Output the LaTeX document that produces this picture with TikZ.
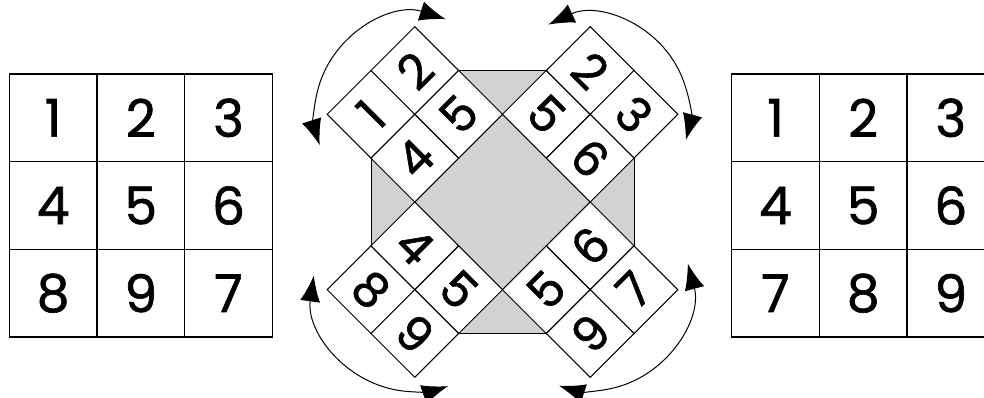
\documentclass[tikz,border=0pt]{standalone}
\usepackage{fontspec}
\usetikzlibrary{arrows.meta}
\newfontfamily\digitfont[FakeBold=1.2]{Poppins}
\definecolor{boardgray}{HTML}{D1D2D4}

\begin{document}
\begin{tikzpicture}[
    x=0.5pt, y=0.5pt,
    cell/.style={rectangle, draw=black, line width=0.6pt, minimum size=43.83pt, inner sep=0pt},
    tile/.style={rectangle, draw=black, fill=white, line width=0.5pt, minimum size=31pt, inner sep=0pt, font=\digitfont\fontsize{24}{24}\selectfont},
    board/.style={rectangle, draw=black, fill=boardgray, line width=0.5pt, minimum size=131.5pt, inner sep=0pt},
    rotarrow/.style={{Latex[length=13pt, width=10pt]}-{Latex[length=13pt, width=10pt]}, line width=0.5pt},
    every node/.style={font=\digitfont\fontsize{26}{26}\selectfont}
]
    \useasboundingbox (0,0) rectangle (984,397);

    % grid before
    \node[cell] (a1) at (53.1,279.2) {1};
    \node[cell] (a2) at (140.8,279.2) {2};
    \node[cell] (a3) at (228.5,279.2) {3};
    \node[cell] (a4) at (53.1,191.5) {4};
    \node[cell] (a5) at (140.8,191.5) {5};
    \node[cell] (a6) at (228.5,191.5) {6};
    \node[cell] (a7) at (53.1,103.8) {8};
    \node[cell] (a8) at (140.8,103.8) {9};
    \node[cell] (a9) at (228.5,103.8) {7};

    % board with the four turning blocks
    \node[board] (board) at (502.5,195) {};
    \coordinate (ctl) at (414.8,282.7);
    \coordinate (ctr) at (590.2,282.7);
    \coordinate (cbl) at (414.8,107.3);
    \coordinate (cbr) at (590.2,107.3);

    \node[tile, rotate=45] (tl1) at (371,282.7) {1};
    \node[tile, rotate=45] (tl2) at (414.8,326.5) {2};
    \node[tile, rotate=45] (tl5) at (458.7,282.7) {5};
    \node[tile, rotate=45] (tl4) at (414.8,238.8) {4};

    \node[tile, rotate=-45] (tr5) at (546.3,282.7) {5};
    \node[tile, rotate=-45] (tr2) at (590.2,326.5) {2};
    \node[tile, rotate=-45] (tr3) at (634,282.7) {3};
    \node[tile, rotate=-45] (tr6) at (590.2,238.8) {6};

    \node[tile, rotate=-45] (bl8) at (371,107.3) {8};
    \node[tile, rotate=-45] (bl4) at (414.8,151.2) {4};
    \node[tile, rotate=-45] (bl5) at (458.7,107.3) {5};
    \node[tile, rotate=-45] (bl9) at (414.8,63.5) {9};

    \node[tile, rotate=45] (br5) at (546.3,107.3) {5};
    \node[tile, rotate=45] (br6) at (590.2,151.2) {6};
    \node[tile, rotate=45] (br7) at (634,107.3) {7};
    \node[tile, rotate=45] (br9) at (590.2,63.5) {9};

    \draw[rotarrow] ([shift={(72:100)}]ctl) arc[start angle=72, end angle=198, radius=100];
    \draw[rotarrow] ([shift={(115:99)}]ctr) arc[start angle=115, end angle=-15, radius=99];
    \draw[rotarrow] ([shift={(172:102)}]cbl) arc[start angle=172, end angle=289, radius=102];
    \draw[rotarrow] ([shift={(15:101)}]cbr) arc[start angle=15, end angle=-108, radius=101];

    % grid after
    \node[cell] (b1) at (775.5,279.2) {1};
    \node[cell] (b2) at (863.2,279.2) {2};
    \node[cell] (b3) at (950.8,279.2) {3};
    \node[cell] (b4) at (775.5,191.5) {4};
    \node[cell] (b5) at (863.2,191.5) {5};
    \node[cell] (b6) at (950.8,191.5) {6};
    \node[cell] (b7) at (775.5,103.8) {7};
    \node[cell] (b8) at (863.2,103.8) {8};
    \node[cell] (b9) at (950.8,103.8) {9};
\end{tikzpicture}
\end{document}
